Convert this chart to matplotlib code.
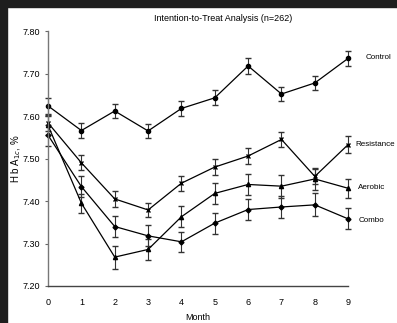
import matplotlib
matplotlib.use('Agg')
import matplotlib.pyplot as plt
from matplotlib.patches import Rectangle

months = [0, 1, 2, 3, 4, 5, 6, 7, 8, 9]

control = [7.624, 7.566, 7.612, 7.565, 7.618, 7.643, 7.718, 7.652, 7.678, 7.736]
control_err = [0.018, 0.017, 0.017, 0.017, 0.017, 0.018, 0.018, 0.017, 0.017, 0.018]

resistance = [7.584, 7.490, 7.405, 7.379, 7.442, 7.480, 7.506, 7.545, 7.458, 7.533]
resistance_err = [0.018, 0.018, 0.018, 0.017, 0.018, 0.018, 0.018, 0.018, 0.018, 0.020]

aerobic = [7.578, 7.395, 7.268, 7.286, 7.363, 7.418, 7.439, 7.435, 7.452, 7.430]
aerobic_err = [0.022, 0.022, 0.027, 0.025, 0.025, 0.025, 0.025, 0.027, 0.025, 0.022]

combo = [7.555, 7.434, 7.340, 7.318, 7.304, 7.348, 7.380, 7.386, 7.391, 7.358]
combo_err = [0.025, 0.025, 0.025, 0.025, 0.024, 0.025, 0.025, 0.025, 0.027, 0.025]

plt.rcParams['font.family'] = ['Liberation Sans Narrow', 'Liberation Sans', 'DejaVu Sans']

fig = plt.figure(figsize=(3.97, 3.23), dpi=100)
# dark frame at top and left
fig.patches.append(Rectangle((0, 0.978), 1, 0.022, transform=fig.transFigure,
                             color='#1e1e1e', zorder=0))
fig.patches.append(Rectangle((0, 0), 0.018, 1, transform=fig.transFigure,
                             color='#1e1e1e', zorder=0))

ax = fig.add_axes([0.121, 0.1146, 0.756, 0.789])

series = [
    (control, control_err, 'o', 3, 'Control', 9.51, 7.739),
    (resistance, resistance_err, 'x', 3.5, 'Resistance', 9.21, 7.534),
    (aerobic, aerobic_err, '^', 3, 'Aerobic', 9.3, 7.433),
    (combo, combo_err, 'D', 2.5, 'Combo', 9.3, 7.353),
]
for vals, err, m, ms, name, lx, ly in series:
    ax.errorbar(months, vals, yerr=err, color='black', lw=0.9, marker=m, ms=ms,
                mew=1, elinewidth=0.8, capsize=2.5, capthick=0.8, ecolor='#333333',
                clip_on=False)
    ax.text(lx, ly, name, fontsize=5.8, va='center', ha='left')

ax.set_xlim(0, 9)
ax.set_ylim(7.20, 7.80)
ax.set_xticks(months)
ax.set_yticks([7.20, 7.30, 7.40, 7.50, 7.60, 7.70, 7.80])
ax.set_yticklabels(['%.2f' % v for v in ax.get_yticks()])
ax.tick_params(axis='x', length=0, pad=9, labelsize=6.5)
ax.tick_params(axis='y', length=2, width=0.8, labelsize=6.5, color='#666666')
for s in ['top', 'right']:
    ax.spines[s].set_visible(False)
ax.spines['left'].set_color('#777777')
ax.spines['bottom'].set_color('#444444')
ax.spines['left'].set_linewidth(1)
ax.spines['bottom'].set_linewidth(1)

ax.set_xlabel('Month', fontsize=6.5, labelpad=4)
ax.set_ylabel('H b A$_{1c}$, %', fontsize=7)
ax.yaxis.set_label_coords(-0.083, 0.5)
fig.text(0.562, 0.935, 'Intention-to-Treat Analysis (n=262)', fontsize=6.5, ha='center')

fig.savefig('out.png', dpi=100)
